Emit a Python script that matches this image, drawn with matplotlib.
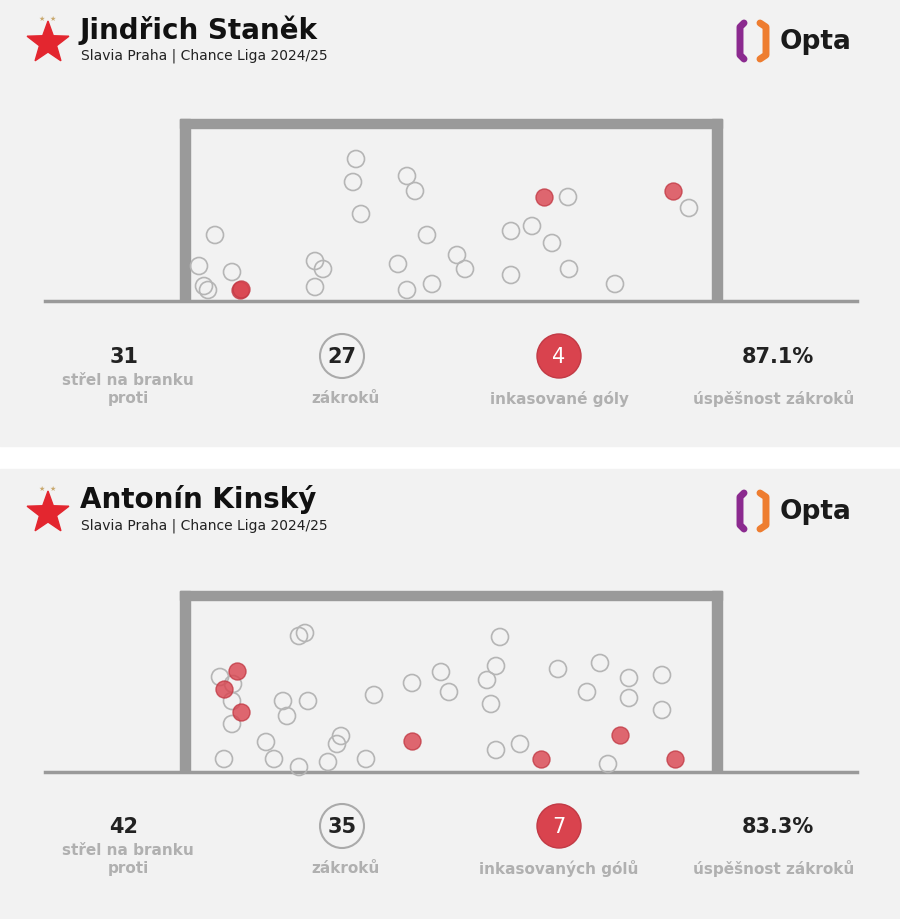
import matplotlib.pyplot as plt
from matplotlib.patches import Rectangle, Circle, Polygon
import numpy as np

# panel data: shot placements in picture pixels (x, y)
names = ["Jindřich Staněk", "Antonín Kinský"]
subtitle = "Slavia Praha | Chance Liga 2024/25"
shots_on_target = [31, 42]
saves_count = [27, 35]
goals_count = [4, 7]
save_pct = ["87.1%", "83.3%"]
goal_labels = ["inkasované góly", "inkasovaných gólů"]

saves1_x = [356, 353, 407, 415, 361, 215, 427, 511, 532, 552, 568, 689, 199, 232, 204, 208,
            315, 323, 315, 398, 407, 432, 457, 465, 511, 569, 615]
saves1_y = [160, 183, 177, 192, 215, 236, 236, 232, 227, 244, 198, 209, 267, 273, 287, 291,
            262, 270, 288, 265, 291, 285, 256, 270, 276, 270, 285]
goals1_x = [544, 673, 240, 241]
goals1_y = [198, 192, 291, 290]

saves2_x = [299, 305, 500, 496, 558, 600, 629, 662, 441, 412, 487, 449, 491, 374, 587, 629,
            662, 220, 233, 232, 232, 283, 308, 287, 266, 341, 337, 224, 274, 299, 328, 366,
            496, 520, 608]
saves2_y = [637, 634, 638, 667, 670, 664, 679, 676, 673, 684, 681, 693, 705, 696, 693, 699,
            711, 678, 685, 702, 725, 702, 702, 717, 743, 737, 745, 760, 760, 768, 763, 760,
            751, 745, 765]
goals2_x = [237, 224, 241, 412, 541, 620, 675]
goals2_y = [672, 690, 713, 742, 760, 736, 760]

RED = "#d9434e"
GREY = "#9a9a9a"
BG = "#f2f2f2"
LBL = "#b0b0b0"

fig = plt.figure(figsize=(9, 9.2), dpi=100)
fig.patch.set_facecolor("white")
ax = fig.add_axes([0, 0, 1, 1])
ax.set_xlim(0, 900)
ax.set_ylim(920, 0)
ax.axis("off")

panels = [(0, saves1_x, saves1_y, goals1_x, goals1_y), (470, saves2_x, saves2_y, goals2_x, goals2_y)]
heights = [447, 450]

for i, (top, sx, sy, gx, gy) in enumerate(panels):
    ax.add_patch(Rectangle((0, top), 900, heights[i], color=BG, zorder=0))
    # star
    ang = np.deg2rad(np.arange(5) * 72 - 90)
    pts = []
    cx, cy = 48, top + 44
    for a in ang:
        pts.append((cx + 22 * np.cos(a), cy + 22 * np.sin(a)))
        pts.append((cx + 9 * np.cos(a + np.deg2rad(36)), cy + 9 * np.sin(a + np.deg2rad(36))))
    ax.add_patch(Polygon(pts, closed=True, color="#e3262f", zorder=2))
    ax.text(42, top + 19, "★", fontsize=5, color="#c9a96e", ha="center", va="center")
    ax.text(53, top + 19, "★", fontsize=5, color="#c9a96e", ha="center", va="center")
    ax.text(80, top + 30, names[i], fontsize=20, fontweight="bold", color="#111111", va="center")
    ax.text(81, top + 56, subtitle, fontsize=10, color="#222222", va="center")
    # opta logo
    ax.text(780, top + 42, "Opta", fontsize=19, fontweight="bold", color="#1a1a1a", va="center")
    ax.plot([744, 740, 740, 744], [top + 24, top + 28, top + 56, top + 60], color="#8b2a8f", lw=5,
            solid_capstyle="round")
    ax.plot([760, 766, 766, 760], [top + 24, top + 28, top + 56, top + 60], color="#ee7d30", lw=5,
            solid_capstyle="round")

    # goal frame
    g = 120 if i == 0 else 592
    base = 302 if i == 0 else 773
    ax.plot([45, 857], [base, base], color=GREY, lw=2.5, zorder=1)
    ax.add_patch(Rectangle((180, g), 542, 9, color=GREY, zorder=1))
    ax.add_patch(Rectangle((180, g), 10, base - g, color=GREY, zorder=1))
    ax.add_patch(Rectangle((712, g), 10, base - g, color=GREY, zorder=1))

    ax.scatter(sx, sy, s=150, facecolors="none", edgecolors="#b5b5b5", linewidths=1.2, zorder=3)
    ax.scatter(gx, gy, s=150, facecolors=RED, edgecolors="#c23a45", linewidths=1, alpha=0.8, zorder=4)

    # stats row
    ny = top + 357
    ly = top + 399
    ax.text(124, ny, str(shots_on_target[i]), fontsize=15, fontweight="bold", color="#222222",
            ha="center", va="center")
    ax.text(128, top + 381, "střel na branku", fontsize=11, fontweight="bold", color=LBL,
            ha="center", va="center")
    ax.text(128, ly, "proti", fontsize=11, fontweight="bold", color=LBL, ha="center", va="center")
    ax.add_patch(Circle((342, ny), 22, facecolor="none", edgecolor="#aaaaaa", lw=1.5, zorder=3))
    ax.text(342, ny, str(saves_count[i]), fontsize=15, fontweight="bold", color="#222222",
            ha="center", va="center")
    ax.text(345, ly, "zákroků", fontsize=11, fontweight="bold", color=LBL, ha="center", va="center")
    ax.add_patch(Circle((559, ny), 22, facecolor=RED, edgecolor="#c23a45", lw=1, zorder=3))
    ax.text(559, ny, str(goals_count[i]), fontsize=15, color="white", ha="center", va="center", zorder=4)
    ax.text(559, ly, goal_labels[i], fontsize=11, fontweight="bold", color=LBL, ha="center", va="center")
    ax.text(778, ny, save_pct[i], fontsize=15, fontweight="bold", color="#222222",
            ha="center", va="center")
    ax.text(774, ly, "úspěšnost zákroků", fontsize=11, fontweight="bold", color=LBL,
            ha="center", va="center")

fig.savefig("out.png", dpi=100, facecolor=fig.get_facecolor())
